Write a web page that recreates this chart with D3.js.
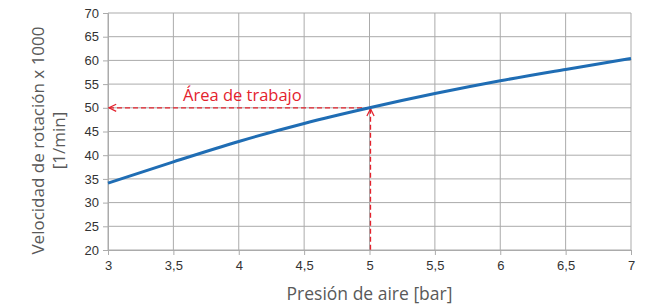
<!DOCTYPE html>
<html>
<head>
<meta charset="utf-8">
<script src="https://cdn.jsdelivr.net/npm/d3@7"></script>
<style>
  body { margin: 0; background: #fff; }
  .tick text { font-family: "Liberation Sans", Arial, sans-serif; font-size: 13px; fill: #333; }
  .title { font-family: "Open Sans", sans-serif; font-size: 16px; fill: #595959; }
</style>
</head>
<body>
<div id="chart"></div>
<script>
// data
const pressure = [3, 3.5, 4, 4.5, 5, 5.5, 6, 6.5, 7];
const speed = [34.1, 38.6, 42.9, 46.7, 50.0, 53.0, 55.7, 58.1, 60.4];
const xTicks = [3, 3.5, 4, 4.5, 5, 5.5, 6, 6.5, 7];
const yTicks = [20, 25, 30, 35, 40, 45, 50, 55, 60, 65, 70];
const workPoint = [5, 50];

// dimensions
const width = 645,
    height = 307,
    margin = { top: 13, right: 14, bottom: 57, left: 108 };

const svg = d3.select("#chart")
    .append("svg")
    .attr("width", width)
    .attr("height", height);

const x = d3.scaleLinear().domain([3, 7]).range([margin.left, width - margin.right]);
const y = d3.scaleLinear().domain([20, 70]).range([height - margin.bottom, margin.top]);

const fmt = d => String(d).replace(".", ",");

// grid
svg.append("g")
    .selectAll("line")
    .data(yTicks)
    .join("line")
    .attr("x1", x(3)).attr("x2", x(7))
    .attr("y1", d => y(d)).attr("y2", d => y(d))
    .attr("stroke", "#ababab");

svg.append("g")
    .selectAll("line")
    .data(xTicks)
    .join("line")
    .attr("x1", d => x(d)).attr("x2", d => x(d))
    .attr("y1", y(20)).attr("y2", y(70))
    .attr("stroke", "#ababab");

// axes
const xAxis = svg.append("g")
    .attr("transform", `translate(0,${y(20)})`)
    .call(d3.axisBottom(x).tickValues(xTicks).tickFormat(fmt).tickSize(5).tickPadding(6));
xAxis.select(".domain").attr("stroke", "#ababab");
xAxis.selectAll(".tick line").attr("stroke", "#ababab");

const yAxis = svg.append("g")
    .attr("transform", `translate(${x(3)},0)`)
    .call(d3.axisLeft(y).tickValues(yTicks).tickFormat(fmt).tickSize(5).tickPadding(4));
yAxis.select(".domain").attr("stroke", "#ababab");
yAxis.selectAll(".tick line").attr("stroke", "#ababab");

// arrow marker (open chevron)
const red = "#e3222d";
svg.append("defs").append("marker")
    .attr("id", "arrow")
    .attr("viewBox", "0 0 10 10")
    .attr("refX", 1).attr("refY", 5)
    .attr("markerWidth", 9).attr("markerHeight", 9)
    .attr("markerUnits", "userSpaceOnUse")
    .attr("orient", "auto")
    .append("path")
    .attr("d", "M9,1 L1,5 L9,9")
    .attr("fill", "none")
    .attr("stroke", red)
    .attr("stroke-width", 1.4);

// dashed guides
svg.append("line")
    .attr("x1", x(3) + 1).attr("x2", x(workPoint[0]))
    .attr("y1", y(workPoint[1])).attr("y2", y(workPoint[1]))
    .attr("stroke", red).attr("stroke-width", 1.3)
    .attr("stroke-dasharray", "5,3")
    .attr("marker-start", "url(#arrow)");

svg.append("line")
    .attr("x1", x(workPoint[0]) + 1).attr("x2", x(workPoint[0]) + 1)
    .attr("y1", y(workPoint[1]) + 1).attr("y2", y(20))
    .attr("stroke", red).attr("stroke-width", 1.3)
    .attr("stroke-dasharray", "5,3")
    .attr("marker-start", "url(#arrow)");

// curve
const line = d3.line()
    .x((d, i) => x(pressure[i]))
    .y(d => y(d))
    .curve(d3.curveMonotoneX);

svg.append("path")
    .datum(speed)
    .attr("d", line)
    .attr("fill", "none")
    .attr("stroke", "#1f6db4")
    .attr("stroke-width", 3);

// labels
svg.append("text")
    .attr("class", "title")
    .attr("x", 183).attr("y", 101)
    .style("fill", red)
    .style("font-size", "16.5px")
    .text("Área de trabajo");

svg.append("text")
    .attr("class", "title")
    .attr("x", (x(3) + x(7)) / 2).attr("y", 300)
    .attr("text-anchor", "middle")
    .style("font-size", "17.5px")
    .text("Presión de aire [bar]");

const yTitle = svg.append("text")
    .attr("class", "title")
    .attr("transform", `translate(44,${(y(20) + y(70)) / 2 + 9}) rotate(-90)`)
    .attr("text-anchor", "middle")
    .style("font-size", "17px");
yTitle.append("tspan").attr("x", 0).attr("dy", 0).text("Velocidad de rotación x 1000");
yTitle.append("tspan").attr("x", 0).attr("dy", 21).text("[1/min]");
</script>
</body>
</html>
